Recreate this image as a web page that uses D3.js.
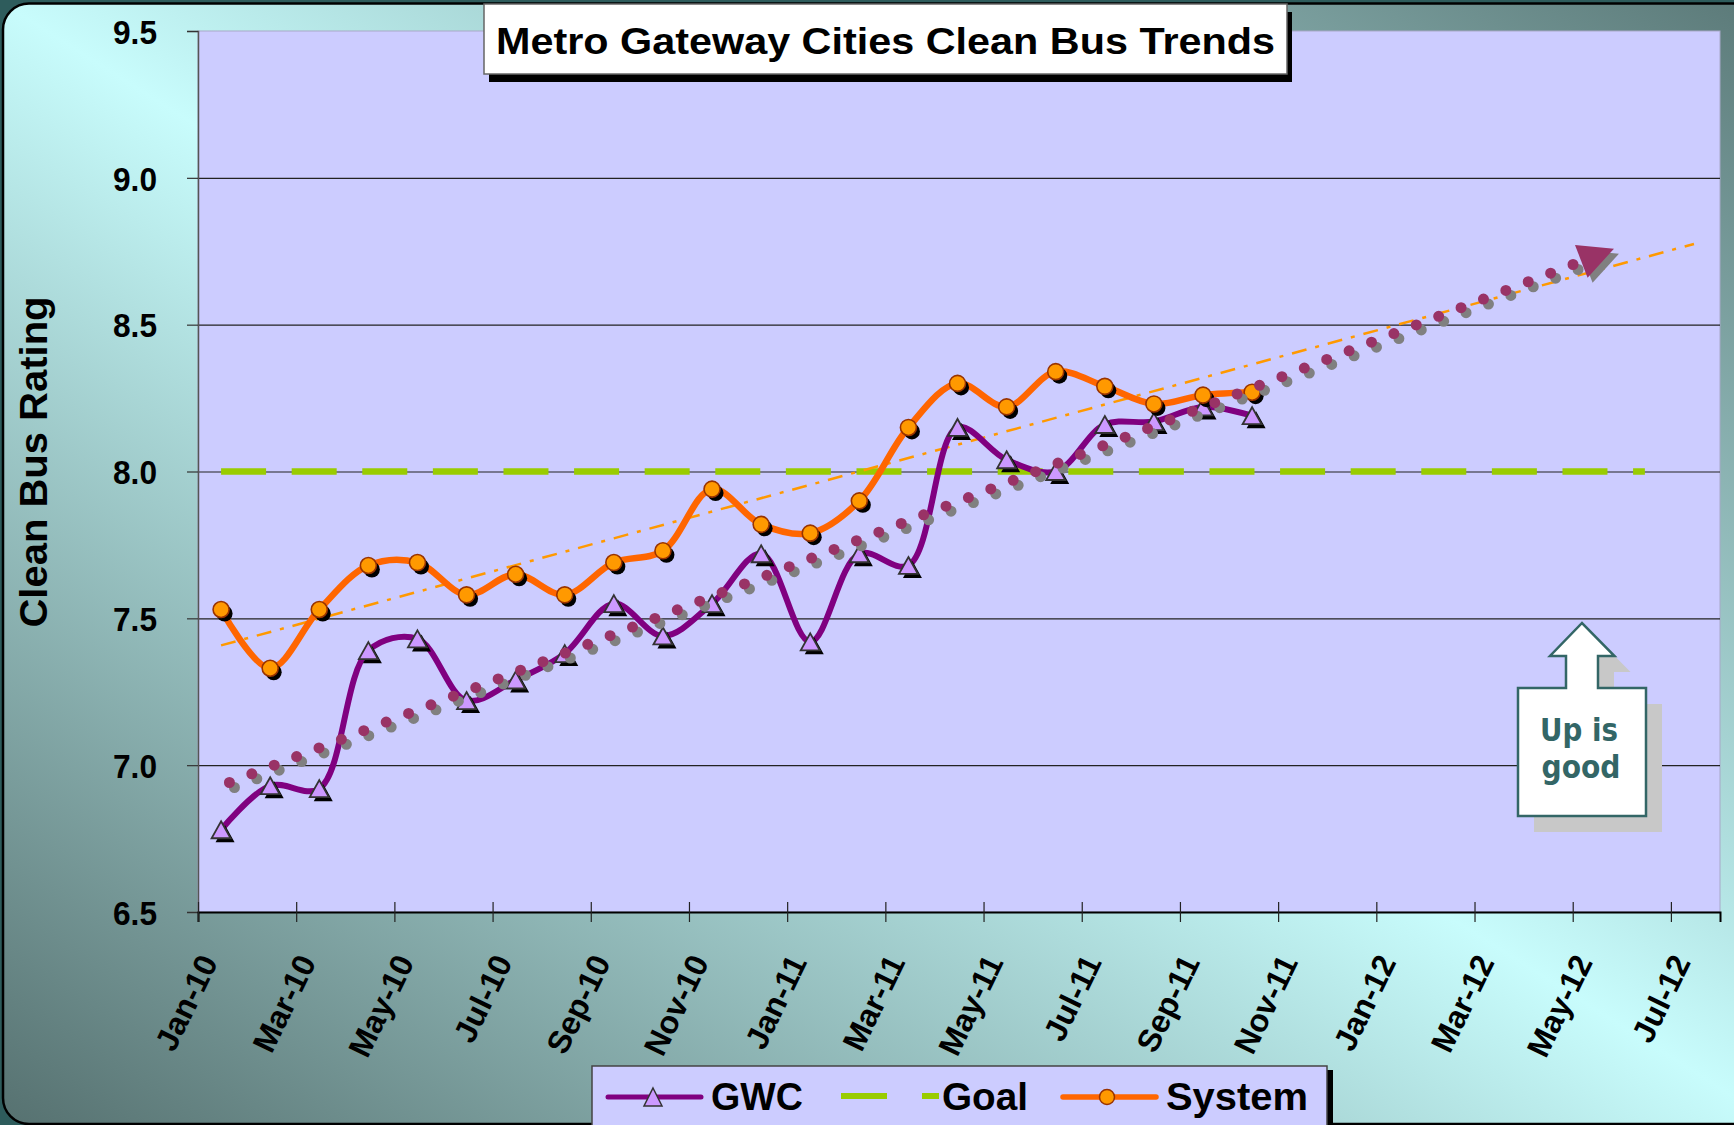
<!DOCTYPE html>
<html>
<head>
<meta charset="utf-8">
<script src="https://cdn.jsdelivr.net/npm/d3@7"></script>
<style>
  body { margin: 0; background: #2e5c5c; }
  svg { display: block; font-family: "Liberation Sans", Arial, sans-serif; }
</style>
</head>
<body>
<div id="graf"></div>
<script>
// monthly ratings, Jan-10 .. Oct-11
const gwc = [6.78, 6.93, 6.92, 7.39, 7.43, 7.22, 7.29, 7.38, 7.55, 7.44, 7.55,
  7.72, 7.42, 7.72, 7.68, 8.15, 8.04, 8.00, 8.16, 8.17, 8.22, 8.19]
const system = [7.53, 7.33, 7.53, 7.68, 7.69, 7.58, 7.65, 7.58, 7.69, 7.73, 7.94,
  7.82, 7.79, 7.90, 8.15, 8.30, 8.22, 8.34, 8.29, 8.23, 8.26, 8.27]
// goal, Jan-10 .. Jun-12
const goal = [8.0, 8.0, 8.0, 8.0, 8.0, 8.0, 8.0, 8.0, 8.0, 8.0, 8.0, 8.0, 8.0, 8.0, 8.0,
  8.0, 8.0, 8.0, 8.0, 8.0, 8.0, 8.0, 8.0, 8.0, 8.0, 8.0, 8.0, 8.0, 8.0, 8.0]

const tickMonths = [0, 2, 4, 6, 8, 10, 12, 14, 16, 18, 20, 22, 24, 26, 28, 30]
const tickLabels = ["Jan-10", "Mar-10", "May-10", "Jul-10", "Sep-10", "Nov-10",
  "Jan-11", "Mar-11", "May-11", "Jul-11", "Sep-11", "Nov-11",
  "Jan-12", "Mar-12", "May-12", "Jul-12"]
const yTicks = [6.5, 7.0, 7.5, 8.0, 8.5, 9.0, 9.5]
const gridTicks = [7.0, 7.5, 8.0, 8.5, 9.0]

// trendline extents (in data periods)
const systemForward = 9
const gwcTrendFrom = 0.17, gwcTrendTo = 28.37

const W = 1734, H = 1125
const margins = { left: 198, top: 31, right: 14, bottom: 213 }
const ancho = W - margins.left - margins.right
const alto = H - margins.top - margins.bottom
const off = 0.47 // points sit mid-month

const svg = d3.select("#graf").append("svg").attr("width", W).attr("height", H)
const defs = svg.append("defs")
const grad = defs.append("linearGradient").attr("id", "bg")
  .attr("x1", 0).attr("y1", 1).attr("x2", 1).attr("y2", 0)
grad.append("stop").attr("offset", 0).attr("stop-color", "#567170")
grad.append("stop").attr("offset", 0.5).attr("stop-color", "#c8fcfc")
grad.append("stop").attr("offset", 1).attr("stop-color", "#5a7877")

svg.append("rect").attr("width", W).attr("height", H).attr("fill", "#2e5c5c")
svg.append("rect")
  .attr("x", 3).attr("y", 3.5).attr("width", W + 40).attr("height", H - 4.5)
  .attr("rx", 26).attr("fill", "url(#bg)")
  .attr("stroke", "#000").attr("stroke-width", 2.5)

const g = svg.append("g").attr("transform", `translate(${margins.left}, ${margins.top})`)

const x = d3.scaleLinear().domain([0, 31]).range([0, ancho])
const y = d3.scaleLinear().domain([6.5, 9.5]).range([alto, 0])

g.append("rect").attr("width", ancho).attr("height", alto)
  .attr("fill", "#ccccff").attr("stroke", "#a8a8c8")

// gridlines
g.append("g")
  .call(d3.axisLeft(y).tickValues(gridTicks).tickSize(-ancho).tickFormat(""))
  .call((s) => s.select(".domain").remove())
  .selectAll("line").attr("stroke", "#222").attr("stroke-width", 1.2)

// y axis
const yAx = g.append("g")
  .call(d3.axisLeft(y).tickValues(yTicks).tickSize(11).tickPadding(30).tickFormat(d3.format(".1f")))
yAx.select(".domain").attr("stroke", "#555").attr("stroke-width", 1.5)
yAx.selectAll("line").attr("stroke", "#333").attr("stroke-width", 1.2)
yAx.selectAll("text").attr("font-size", 33).attr("font-weight", "bold")
  .attr("fill", "#000").attr("dy", "0.37em")
  .attr("textLength", 44).attr("lengthAdjust", "spacingAndGlyphs")

// x axis
const xAx = g.append("g").attr("transform", `translate(0, ${alto})`)
  .call(d3.axisBottom(x).tickValues(tickMonths).tickFormat((d, i) => tickLabels[i]).tickSize(10))
xAx.select(".domain").attr("stroke", "#000").attr("stroke-width", 2)
xAx.selectAll("line").attr("y1", -10).attr("y2", 10).attr("stroke", "#222").attr("stroke-width", 1.2)
xAx.selectAll("text")
  .attr("x", 0).attr("y", 0).attr("dy", 0)
  .attr("text-anchor", "end")
  .attr("transform", "translate(20, 50) rotate(-64)")
  .attr("font-size", 32).attr("font-weight", "bold").attr("fill", "#000")

// goal
g.append("path").datum(goal)
  .attr("d", d3.line().x((d, i) => x(i + off)).y((d) => y(d)))
  .attr("fill", "none").attr("stroke", "#99cc00").attr("stroke-width", 6.5)
  .attr("stroke-dasharray", "45,25.6")

// linear fit like the spreadsheet trendline
const fit = (vals) => {
  const n = vals.length
  const mx = (n - 1) / 2, my = d3.mean(vals)
  const b = d3.sum(vals, (v, i) => (i - mx) * (v - my)) / d3.sum(vals, (v, i) => (i - mx) ** 2)
  return (i) => my + b * (i - mx)
}

const fs = fit(system)
const sEnd = system.length - 1 + systemForward
g.append("line")
  .attr("x1", x(off)).attr("y1", y(fs(0)))
  .attr("x2", x(sEnd + off)).attr("y2", y(fs(sEnd)))
  .attr("stroke", "#ff9900").attr("stroke-width", 2.5)
  .attr("stroke-dasharray", "15,9,4,9")

const smooth = d3.line().x((d, i) => x(i + off)).y((d) => y(d)).curve(d3.curveCatmullRom.alpha(0.5))

const tri = (cx, cy, w, h) =>
  `M${cx},${cy - h / 2}L${cx + w / 2},${cy + h / 2}L${cx - w / 2},${cy + h / 2}Z`

// GWC
g.append("path").datum(gwc).attr("d", smooth)
  .attr("fill", "none").attr("stroke", "#800080").attr("stroke-width", 6)
g.selectAll(".gwcSh").data(gwc).enter().append("path")
  .attr("d", (d, i) => tri(x(i + off) + 4, y(d) + 4, 19, 17)).attr("fill", "#000")
g.selectAll(".gwcPt").data(gwc).enter().append("path")
  .attr("d", (d, i) => tri(x(i + off), y(d), 19, 17))
  .attr("fill", "#cc99ff").attr("stroke", "#333").attr("stroke-width", 1.8)

// System
g.append("path").datum(system).attr("d", smooth)
  .attr("fill", "none").attr("stroke", "#ff6600").attr("stroke-width", 6.5)
g.selectAll(".sysSh").data(system).enter().append("circle")
  .attr("cx", (d, i) => x(i + off) + 3.5).attr("cy", (d) => y(d) + 4).attr("r", 8).attr("fill", "#000")
g.selectAll(".sysPt").data(system).enter().append("circle")
  .attr("cx", (d, i) => x(i + off)).attr("cy", (d) => y(d)).attr("r", 8)
  .attr("fill", "#ff9900").attr("stroke", "#993300").attr("stroke-width", 1.6)

// GWC dotted trend arrow
const fg = fit(gwc)
const p0 = [x(gwcTrendFrom + off), y(fg(gwcTrendFrom))]
const tip = [x(gwcTrendTo + off), y(fg(gwcTrendTo))]
const len = Math.hypot(tip[0] - p0[0], tip[1] - p0[1])
const u = [(tip[0] - p0[0]) / len, (tip[1] - p0[1]) / len]
const base = [tip[0] - 35 * u[0], tip[1] - 35 * u[1]]
const head = [tip, [base[0] - 17.5 * u[1], base[1] + 17.5 * u[0]], [base[0] + 17.5 * u[1], base[1] - 17.5 * u[0]]]
const arrow = (dx, col) => {
  const a = g.append("g").attr("transform", `translate(${dx}, ${dx})`)
  a.append("line").attr("x1", p0[0]).attr("y1", p0[1]).attr("x2", base[0]).attr("y2", base[1])
    .attr("stroke", col).attr("stroke-width", 11).attr("stroke-linecap", "round")
    .attr("stroke-dasharray", "0,24")
  a.append("path").attr("d", "M" + head.join("L") + "Z").attr("fill", col)
}
arrow(5, "#808080")
arrow(0, "#993366")

// "Up is good" callout
const callout = "M1518,688 L1566,688 L1566,656 L1550,656 L1582,623 L1614.5,656 L1598,656 L1598,688 L1646,688 L1646,816 L1518,816 Z"
svg.append("path").attr("d", callout).attr("transform", "translate(16,16)").attr("fill", "#c8c8c8")
svg.append("path").attr("d", callout).attr("fill", "#fff").attr("stroke", "#336666").attr("stroke-width", 2.5)
svg.append("text").attr("x", 1579).attr("y", 741).attr("text-anchor", "middle")
  .attr("font-family", "'DejaVu Sans', sans-serif").attr("font-weight", "bold").attr("font-size", 32)
  .attr("fill", "#336666").attr("textLength", 78).attr("lengthAdjust", "spacingAndGlyphs").text("Up is")
svg.append("text").attr("x", 1581).attr("y", 778).attr("text-anchor", "middle")
  .attr("font-family", "'DejaVu Sans', sans-serif").attr("font-weight", "bold").attr("font-size", 32)
  .attr("fill", "#336666").attr("textLength", 79).attr("lengthAdjust", "spacingAndGlyphs").text("good")

// title
svg.append("rect").attr("x", 489).attr("y", 12).attr("width", 803).attr("height", 70).attr("fill", "#000")
svg.append("rect").attr("x", 484).attr("y", 4).attr("width", 803).attr("height", 70)
  .attr("fill", "#fff").attr("stroke", "#666").attr("stroke-width", 1.5)
svg.append("text").attr("x", 885.5).attr("y", 54).attr("text-anchor", "middle")
  .attr("font-size", 37).attr("font-weight", "bold")
  .attr("textLength", 779).attr("lengthAdjust", "spacingAndGlyphs")
  .text("Metro Gateway Cities Clean Bus Trends")

// y title
svg.append("text").attr("transform", "translate(47, 462) rotate(-90)")
  .attr("text-anchor", "middle").attr("font-size", 38).attr("font-weight", "bold")
  .attr("textLength", 331).attr("lengthAdjust", "spacingAndGlyphs")
  .text("Clean Bus Rating")

// legend
const lg = svg.append("g")
lg.append("rect").attr("x", 598).attr("y", 1070).attr("width", 735).attr("height", 80).attr("fill", "#000")
lg.append("rect").attr("x", 592).attr("y", 1066).attr("width", 735).attr("height", 80)
  .attr("fill", "#ccccff").attr("stroke", "#444").attr("stroke-width", 1.5)
lg.append("line").attr("x1", 608).attr("x2", 701).attr("y1", 1097).attr("y2", 1097)
  .attr("stroke", "#800080").attr("stroke-width", 5).attr("stroke-linecap", "round")
lg.append("path").attr("d", tri(653, 1097, 18, 18))
  .attr("fill", "#cc99ff").attr("stroke", "#333").attr("stroke-width", 1.5)
lg.append("line").attr("x1", 841).attr("x2", 939).attr("y1", 1096).attr("y2", 1096)
  .attr("stroke", "#99cc00").attr("stroke-width", 6).attr("stroke-dasharray", "46,35")
lg.append("line").attr("x1", 1063).attr("x2", 1156).attr("y1", 1097).attr("y2", 1097)
  .attr("stroke", "#ff6600").attr("stroke-width", 5.5).attr("stroke-linecap", "round")
lg.append("circle").attr("cx", 1107).attr("cy", 1097).attr("r", 7.5)
  .attr("fill", "#ff9900").attr("stroke", "#993300").attr("stroke-width", 1.5)
const items = [["GWC", 711, 92], ["Goal", 942, 86], ["System", 1166, 142]]
items.forEach(([t, lx, w]) => {
  lg.append("text").attr("x", lx).attr("y", 1110).attr("font-size", 39).attr("font-weight", "bold")
    .attr("textLength", w).attr("lengthAdjust", "spacingAndGlyphs").text(t)
})
</script>
</body>
</html>
